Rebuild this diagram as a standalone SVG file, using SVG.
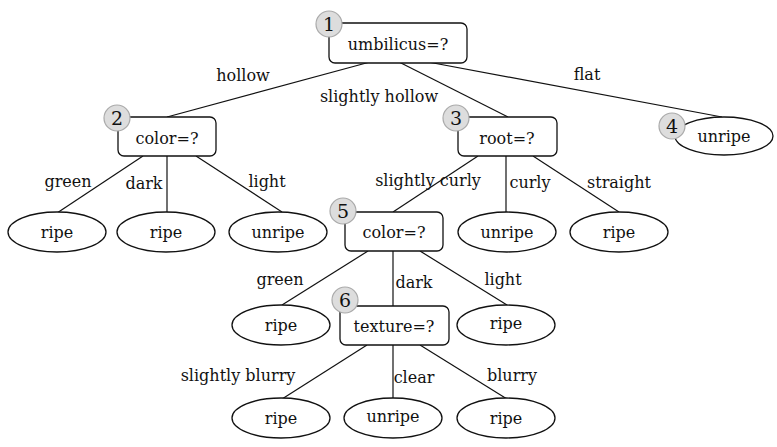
<svg xmlns="http://www.w3.org/2000/svg" width="777" height="447" viewBox="0 0 777 447">
<style>
text{font-family:"DejaVu Serif","Liberation Serif",serif;font-size:16px;fill:#111;}
.c text,.n text{text-anchor:middle;dominant-baseline:central;}
.box{fill:#fff;stroke:#111;stroke-width:1.3;}
.badge{fill:#ddd;stroke:#aaa;stroke-width:1.2;}
.n .badge-t{font-size:19px;}
.e{stroke:#111;stroke-width:1.2;fill:none;}
.lbl{text-anchor:middle;}
</style>
<rect width="777" height="447" fill="#fff"/>
<g id="connectors">
<line class="e" x1="370" y1="62" x2="167" y2="117"/>
<line class="e" x1="399" y1="62" x2="508" y2="117"/>
<line class="e" x1="428" y1="62" x2="722" y2="117"/>
<line class="e" x1="143" y1="156" x2="57" y2="213"/>
<line class="e" x1="167" y1="156" x2="167" y2="212"/>
<line class="e" x1="196" y1="156" x2="282" y2="212"/>
<line class="e" x1="478" y1="156" x2="393" y2="212"/>
<line class="e" x1="506" y1="156" x2="506" y2="212"/>
<line class="e" x1="533" y1="156" x2="619" y2="212"/>
<line class="e" x1="368" y1="251" x2="282" y2="305"/>
<line class="e" x1="393" y1="251" x2="393" y2="306"/>
<line class="e" x1="420" y1="251" x2="507" y2="305"/>
<line class="e" x1="367" y1="345" x2="282" y2="399"/>
<line class="e" x1="393" y1="345" x2="393" y2="399"/>
<line class="e" x1="420" y1="345" x2="507" y2="399"/>
<text class="lbl" x="243" y="81">hollow</text>
<text class="lbl" x="379" y="102">slightly hollow</text>
<text class="lbl" x="587" y="80">flat</text>
<text class="lbl" x="68" y="187">green</text>
<text class="lbl" x="144" y="189">dark</text>
<text class="lbl" x="267" y="187">light</text>
<text class="lbl" x="428" y="186">slightly curly</text>
<text class="lbl" x="530" y="188">curly</text>
<text class="lbl" x="619" y="188">straight</text>
<text class="lbl" x="280" y="285">green</text>
<text class="lbl" x="414" y="288">dark</text>
<text class="lbl" x="503" y="285">light</text>
<text class="lbl" x="238" y="381">slightly blurry</text>
<text class="lbl" x="414" y="383">clear</text>
<text class="lbl" x="512" y="381">blurry</text>
</g>
<g id="n1" class="n"><rect class="box" x="329" y="23" width="138" height="40" rx="6"/><text x="398" y="44">umbilicus=?</text><circle class="badge" cx="329" cy="24" r="13"/><text class="badge-t" x="329" y="24">1</text></g>
<g id="n2" class="n"><rect class="box" x="118" y="117" width="98" height="39" rx="6"/><text x="167" y="138">color=?</text><circle class="badge" cx="117" cy="118" r="13"/><text class="badge-t" x="117" y="118">2</text></g>
<g id="n3" class="n"><rect class="box" x="458" y="117" width="99" height="39" rx="6"/><text x="507" y="138">root=?</text><circle class="badge" cx="456" cy="118" r="13"/><text class="badge-t" x="456" y="118">3</text></g>
<g id="n4" class="n"><ellipse class="box" cx="724" cy="136" rx="49" ry="19"/><text x="724" y="136">unripe</text><circle class="badge" cx="672" cy="126" r="13"/><text class="badge-t" x="672" y="126">4</text></g>
<g id="n5" class="n"><rect class="box" x="345" y="212" width="98" height="39" rx="6"/><text x="394" y="232">color=?</text><circle class="badge" cx="343" cy="211" r="13"/><text class="badge-t" x="343" y="211">5</text></g>
<g id="n6" class="n"><rect class="box" x="340" y="306" width="109" height="39" rx="6"/><text x="394" y="326">texture=?</text><circle class="badge" cx="345" cy="300" r="13"/><text class="badge-t" x="345" y="300">6</text></g>
<g id="l1" class="n"><ellipse class="box" cx="57" cy="232" rx="49" ry="20"/><text x="57" y="232">ripe</text></g>
<g id="l2" class="n"><ellipse class="box" cx="166" cy="232" rx="49" ry="20"/><text x="166" y="232">ripe</text></g>
<g id="l3" class="n"><ellipse class="box" cx="278" cy="232" rx="49" ry="20"/><text x="278" y="232">unripe</text></g>
<g id="l4" class="n"><ellipse class="box" cx="507" cy="232" rx="49" ry="20"/><text x="507" y="232">unripe</text></g>
<g id="l5" class="n"><ellipse class="box" cx="619" cy="232" rx="49" ry="20"/><text x="619" y="232">ripe</text></g>
<g id="l6" class="n"><ellipse class="box" cx="281" cy="325" rx="49" ry="20"/><text x="281" y="325">ripe</text></g>
<g id="l7" class="n"><ellipse class="box" cx="506" cy="325" rx="49" ry="20"/><text x="506" y="323">ripe</text></g>
<g id="l8" class="n"><ellipse class="box" cx="281" cy="418" rx="49" ry="20"/><text x="281" y="418">ripe</text></g>
<g id="l9" class="n"><ellipse class="box" cx="393" cy="418" rx="49" ry="20"/><text x="393" y="416">unripe</text></g>
<g id="l10" class="n"><ellipse class="box" cx="506" cy="418" rx="49" ry="20"/><text x="506" y="418">ripe</text></g>
</svg>
